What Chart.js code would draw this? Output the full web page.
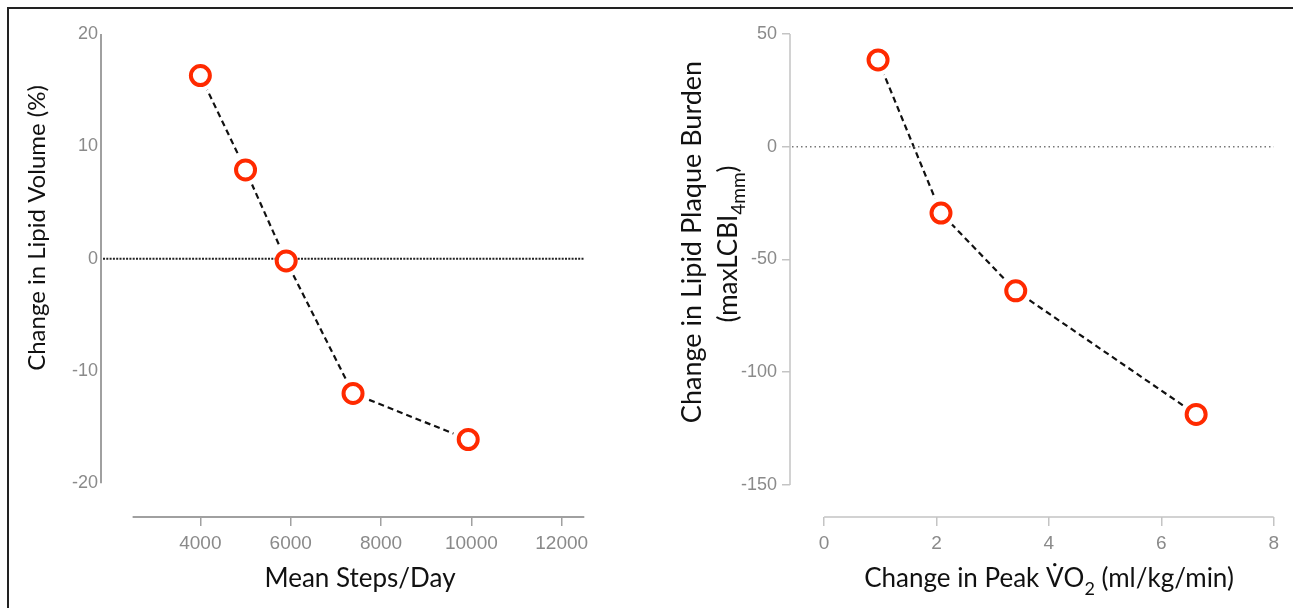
<!DOCTYPE html>
<html>
<head>
<meta charset="utf-8">
<script src="https://cdn.jsdelivr.net/npm/chart.js@4.4.1/dist/chart.umd.min.js"></script>
<style>
  html, body { margin: 0; padding: 0; background: #fff; overflow: hidden; }
  body { width: 1293px; height: 608px; position: relative; }
  .frame { position: absolute; left: 7px; top: 7px; width: 1400px; height: 700px;
           border-top: 2px solid #222; border-left: 2px solid #222; }
  .panel { position: absolute; top: 0; height: 608px; }
  #left { left: 0; width: 640px; }
  #right { left: 640px; width: 653px; }
</style>
</head>
<body>
<div class="frame"></div>
<div class="panel" id="left"><canvas id="steps-chart"></canvas></div>
<div class="panel" id="right"><canvas id="vo2-chart"></canvas></div>
<script>
// DATA
const stepsX = [4000, 5000, 5900, 7380, 9930];
const lipidVolume = [16.3, 7.9, -0.2, -12.0, -16.1];
const stepsTicks = [4000, 6000, 8000, 10000, 12000];
const volumeTicks = [-20, -10, 0, 10, 20];

const vo2X = [0.96, 2.08, 3.41, 6.62];
const plaqueBurden = [38.5, -29.4, -63.9, -118.7];
const vo2Ticks = [0, 2, 4, 6, 8];
const burdenTicks = [-150, -100, -50, 0, 50];

const RED = "#ff2a00";
const TICK_FONT = "Liberation Sans";
const TITLE_FONT = "Lato";

// three layers: dashed line, white halo (gap round the marker), red ring
function series(xs, ys) {
  const pts = xs.map((x, i) => ({ x, y: ys[i] }));
  return [
    { data: pts, showLine: true, borderColor: "#111", borderWidth: 2.2,
      borderDash: [6, 4], pointRadius: 0, order: 3 },
    { data: pts, showLine: false, pointRadius: 16, pointBorderWidth: 0,
      pointBackgroundColor: "#fff", order: 2 },
    { data: pts, showLine: false, pointRadius: 9.5, pointBorderWidth: 4,
      pointBorderColor: RED, pointBackgroundColor: "#fff", order: 1 },
  ];
}

function drawRich(ctx, t) {
  ctx.save();
  ctx.translate(t.x, t.y);
  if (t.rotate) ctx.rotate(-Math.PI / 2);
  const big = `${t.size}px ${TITLE_FONT}`;
  const small = `${Math.round(t.size * (t.subScale || 0.68))}px ${TITLE_FONT}`;
  const widths = t.parts.map((p) => {
    ctx.font = p.sub ? small : big;
    return ctx.measureText(p.t).width;
  });
  let cx = -widths.reduce((a, b) => a + b, 0) / 2;
  const base = t.size * 0.36;
  ctx.fillStyle = "#111";
  ctx.textBaseline = "alphabetic";
  t.parts.forEach((p, i) => {
    ctx.font = p.sub ? small : big;
    ctx.fillText(p.t, cx, base + (p.sub ? t.size * 0.3 : 0));
    if (p.dot) {
      ctx.beginPath();
      ctx.arc(cx + widths[i] / 2, base - t.size * 0.72 - 4, 1.7, 0, Math.PI * 2);
      ctx.fill();
    }
    cx += widths[i];
  });
  ctx.restore();
}

// offset axis lines, dotted zero line, titles
const detached = {
  id: "detached",
  beforeDatasetsDraw(chart, args, o) {
    const { ctx, chartArea, scales: { x, y } } = chart;
    ctx.save();
    ctx.strokeStyle = o.axisColor;
    ctx.lineWidth = o.axisWidth;
    ctx.beginPath();
    ctx.moveTo(x.getPixelForValue(o.xFrom), chartArea.bottom);
    ctx.lineTo(x.getPixelForValue(o.xTo), chartArea.bottom);
    ctx.moveTo(chartArea.left, y.getPixelForValue(o.yFrom));
    ctx.lineTo(chartArea.left, y.getPixelForValue(o.yTo));
    ctx.stroke();
    ctx.restore();
  },
  beforeDatasetDraw(chart, args, o) {
    if (args.index !== 2) return; // just under the red rings
    const { ctx, chartArea, scales: { y } } = chart;
    const y0 = y.getPixelForValue(0);
    ctx.save();
    ctx.strokeStyle = o.zeroColor;
    ctx.lineWidth = o.zeroWidth;
    ctx.setLineDash(o.zeroDash);
    ctx.beginPath();
    ctx.moveTo(chartArea.left + 2, y0);
    ctx.lineTo(chartArea.right, y0);
    ctx.stroke();
    ctx.restore();
  },
  afterDraw(chart, args, o) {
    o.titles.forEach((t) => drawRich(chart.ctx, t));
  },
};

function axis(min, max, ticks, fit, tickOpts, gridOpts) {
  return {
    type: "linear", min, max,
    afterBuildTicks: (s) => { s.ticks = ticks.map((v) => ({ value: v })); },
    afterFit: fit,
    border: { display: false },
    grid: Object.assign({ drawOnChartArea: false }, gridOpts),
    ticks: Object.assign({ color: "#8a8a8a", autoSkip: false, maxRotation: 0,
      callback: (v) => String(v) }, tickOpts),
  };
}

function baseOptions(padding, scales, detachedOpts) {
  return {
    responsive: true, maintainAspectRatio: false, animation: false, events: [],
    layout: { padding },
    plugins: { legend: { display: false }, tooltip: { enabled: false }, detached: detachedOpts },
    scales,
  };
}

// LEFT: steps
new Chart(document.getElementById("steps-chart"), {
  type: "scatter",
  data: { datasets: series(stepsX, lipidVolume) },
  options: baseOptions(
    { left: 0, top: 34, right: 55.7, bottom: 0 },
    {
      x: axis(1800, 12500, stepsTicks, (s) => { s.height = 91; },
        { font: { family: TICK_FONT, size: 19 }, padding: 6 },
        { tickLength: 9, color: "#a0a0a0", lineWidth: 1.5 }),
      y: axis(-23, 20, volumeTicks, (s) => { s.width = 101; },
        { font: { family: TICK_FONT, size: 18 }, padding: 3 },
        { drawTicks: false }),
    },
    {
      xFrom: 2500, xTo: 12500, yFrom: -20, yTo: 20,
      axisColor: "#a0a0a0", axisWidth: 2,
      zeroColor: "#222", zeroWidth: 2, zeroDash: [2, 1.3],
      titles: [
        { parts: [{ t: "Mean Steps/Day" }], x: 360, y: 578, size: 26 },
        { parts: [{ t: "Change in Lipid Volume (%)" }], x: 36, y: 228, size: 24, rotate: true },
      ],
    }
  ),
  plugins: [detached],
});

// RIGHT: peak VO2
new Chart(document.getElementById("vo2-chart"), {
  type: "scatter",
  data: { datasets: series(vo2X, plaqueBurden) },
  options: baseOptions(
    { left: 0, top: 34, right: 19.3, bottom: 0 },
    {
      x: axis(-0.607, 8, vo2Ticks, (s) => { s.height = 91; },
        { font: { family: TICK_FONT, size: 19 }, padding: 6 },
        { tickLength: 9, color: "#c4c4c4", lineWidth: 1.5 }),
      y: axis(-164.2, 50, burdenTicks, (s) => { s.width = 150; },
        { font: { family: TICK_FONT, size: 18 }, padding: 5 },
        { tickLength: 8, color: "#c4c4c4", lineWidth: 1.5 }),
    },
    {
      xFrom: 0, xTo: 8, yFrom: -150, yTo: 50,
      axisColor: "#c4c4c4", axisWidth: 1.5,
      zeroColor: "#777", zeroWidth: 1.5, zeroDash: [1.5, 3],
      titles: [
        { parts: [{ t: "Change in Peak " }, { t: "V", dot: true }, { t: "O" },
                  { t: "2", sub: true }, { t: " (ml/kg/min)" }], x: 409, y: 578, size: 26 },
        { parts: [{ t: "Change in Lipid Plaque Burden" }], x: 51, y: 242, size: 27, rotate: true },
        { parts: [{ t: "(maxLCBI" }, { t: "4mm", sub: true }, { t: ")" }],
          x: 88, y: 244, size: 26, subScale: 0.72, rotate: true },
      ],
    }
  ),
  plugins: [detached],
});
</script>
</body>
</html>
